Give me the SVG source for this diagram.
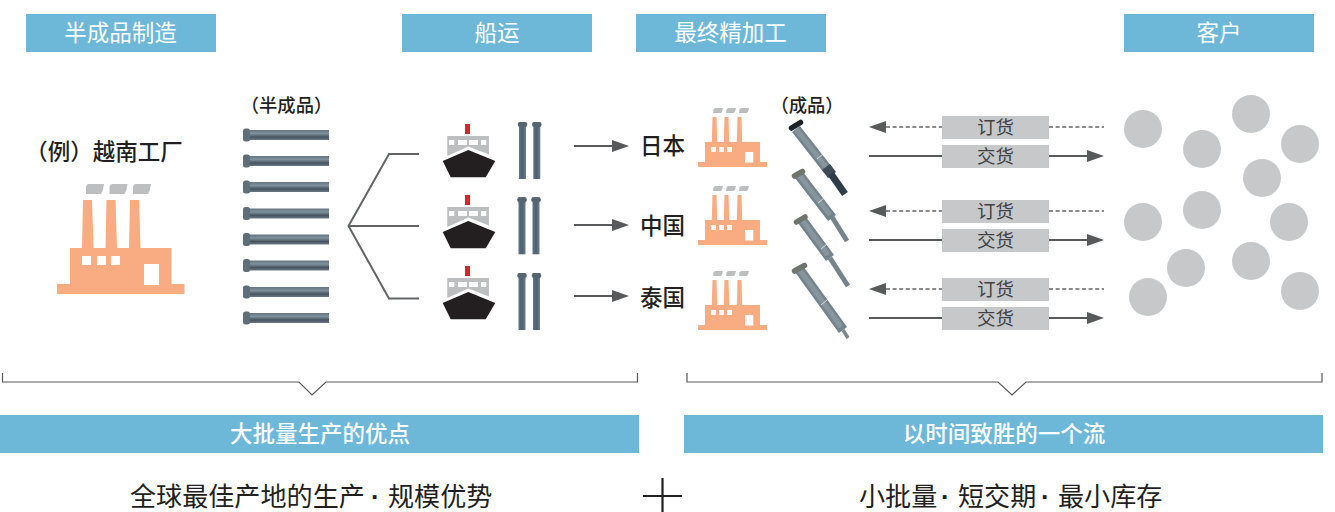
<svg xmlns="http://www.w3.org/2000/svg" width="1335" height="512" viewBox="0 0 1335 512">
<style>
text{font-family:"Noto Sans CJK SC","Noto Sans",sans-serif;fill:#231f20;text-anchor:middle}
.bar{fill:#6db8d9}
.w{fill:#fff}
.bt{fill:#fff;font-size:22.5px}
.bb{fill:#fff;font-size:22.5px;font-weight:500}
.c{font-size:22.5px;font-weight:500}
.s{font-size:18.3px;font-weight:500}
.big{font-size:26.1px;text-anchor:start}
.dot{font-family:"Liberation Sans",sans-serif;font-weight:700}
.o{font-size:18.5px;fill:#414042}
.f{fill:#f9ab82}
.sm{fill:#bcbec0}
.box{fill:#c7c8ca}
.cu{fill:#c7c8ca}
.ln{fill:none;stroke:#636466;stroke-width:2}
.th{fill:none;stroke:#58595b;stroke-width:1.2}
.da{fill:none;stroke:#636466;stroke-width:1.3;stroke-dasharray:4 2.6}
.so{fill:none;stroke:#58595b;stroke-width:2}
.ah{fill:#58595b}
.p1{stroke:#74838c;stroke-width:10;fill:none}
.p2{stroke:#87959d;stroke-width:5;fill:none}
.p3{stroke:#75838a;stroke-width:5;fill:none}
.hd{stroke:#6f756c;stroke-width:5.500;stroke-linecap:round;fill:none}
.tk{stroke:#e6eaec;stroke-width:.9;fill:none}
</style>
<defs>
<linearGradient id="hr" x1="0" y1="0" x2="0" y2="1"><stop offset="0" stop-color="#65757f"/><stop offset=".35" stop-color="#7e919d"/><stop offset=".7" stop-color="#46545f"/><stop offset="1" stop-color="#6a7a85"/></linearGradient>
<linearGradient id="vr" x1="0" y1="0" x2="1" y2="0"><stop offset="0" stop-color="#66747f"/><stop offset=".5" stop-color="#4a6074"/><stop offset="1" stop-color="#707e88"/></linearGradient>
<g id="hrod"><rect x="248" y="-5" width="81" height="10" fill="url(#hr)"/><rect x="243" y="-6.500" width="7" height="13" rx="2.500" fill="#5f6e78"/></g>
<g id="vrod"><rect x="-3.500" y="0" width="7" height="57" fill="url(#vr)"/><rect x="-4.700" y="0" width="9.400" height="5" rx="2" fill="#56666f"/></g>
<g id="ship">
<polygon class="sm" points="447.300,136 489,136 489,154.500 468.300,146.500 447.300,156"/>
<rect x="465" y="124" width="5" height="10" fill="#d9232e"/>
<g class="w"><rect x="449" y="140" width="5.300" height="5"/><rect x="458" y="140" width="9" height="5"/><rect x="469" y="140" width="9" height="5"/><rect x="481" y="140" width="5.300" height="5"/></g>
<polygon fill="#231f20" points="442.700,161 468.300,150 495.300,161 485.700,177.300 450.700,177.300"/>
</g>
<g id="sfac">
<polygon class="f" points="698,162 705,162 705,142 711.800,142 712.500,117 716.500,117 717.200,142 723.800,142 724.500,117 728.500,117 729.200,142 736.800,142 737.500,117 741.500,117 742.200,142 760,142 760,162 767,162 767,167 698,167"/>
<g class="w"><rect x="711" y="147" width="5" height="5"/><rect x="719" y="147" width="5" height="5"/><rect x="727" y="147" width="5" height="5"/><rect x="745" y="152" width="8.300" height="10.500"/></g>
<g class="sm"><path d="M713.500 109.500q.5-1.500 2-1.500h7.500q-.5 3.500-2 5h-8z"/><path d="M726.500 109.500q.5-1.500 2-1.500h7.500q-.5 3.500-2 5h-8z"/><path d="M739.500 109.500q.5-1.500 2-1.500h7.500q-.5 3.500-2 5h-8z"/></g>
</g>
<polygon id="ar" class="ah" points="0,-6 17,0 0,6"/>
</defs>

<g id="header-semi"><rect class="bar" x="26" y="14" width="190" height="38"/><text class="bt" x="120.500" y="41">半成品制造</text></g>
<g id="header-ship"><rect class="bar" x="402" y="14" width="190" height="38"/><text class="bt" x="497" y="41">船运</text></g>
<g id="header-final"><rect class="bar" x="636" y="14" width="190" height="38"/><text class="bt" x="730.500" y="41">最终精加工</text></g>
<g id="header-customer"><rect class="bar" x="1124" y="14" width="190" height="38"/><text class="bt" x="1219" y="41">客户</text></g>

<g id="factory-vietnam">
<text class="c" x="104" y="160">（例）越南工厂</text>
<path class="f" d="M57 284h13V248h12l1-48h9l1.500 48h12l1-48h9l1.500 48h12l1-48h9l1.500 48h31v36h13v10H57z"/>
<g class="w"><rect x="82" y="256" width="9" height="9"/><rect x="97" y="256" width="9" height="9"/><rect x="111" y="256" width="9" height="9"/><rect x="144" y="264" width="15" height="21"/></g>
<g class="sm"><path d="M86 187q.5-3 3-3h15q-.5 6-3 10H86z"/><path d="M109.500 187q.5-3 3-3h15q-.5 6-3 10h-15z"/><path d="M133 187q.5-3 3-3h15q-.5 6-3 10h-15z"/></g>
</g>

<g id="semi-products">
<text class="s" x="286.500" y="112">（半成品）</text>
<use href="#hrod" y="135"/><use href="#hrod" y="161"/><use href="#hrod" y="187"/><use href="#hrod" y="213.500"/><use href="#hrod" y="239.500"/><use href="#hrod" y="265.500"/><use href="#hrod" y="292"/><use href="#hrod" y="318"/>
</g>

<g id="ship-1"><use href="#ship"/><use href="#vrod" x="522.500" y="122"/><use href="#vrod" x="536.800" y="122"/></g>
<g id="ship-2"><use href="#ship" y="71"/><use href="#vrod" x="522" y="197.300"/><use href="#vrod" x="536" y="197.300"/></g>
<g id="ship-3"><use href="#ship" y="142"/><use href="#vrod" x="522" y="273"/><use href="#vrod" x="536.500" y="273"/></g>

<g id="country-japan"><text class="c" x="662.500" y="154">日本</text></g>
<g id="country-china"><text class="c" x="662.500" y="234">中国</text></g>
<g id="country-thailand"><text class="c" x="662.500" y="306">泰国</text></g>

<g id="factory-1"><use href="#sfac"/></g>
<g id="factory-2"><use href="#sfac" y="78"/></g>
<g id="factory-3"><use href="#sfac" y="163"/></g>

<g id="finished-products">
<text class="s" x="807" y="112">（成品）</text>
<g id="pin-1">
<path d="M796 129L828 170" class="p1"/><path d="M796 129L826 167" class="p2"/><path d="M826 167L832 175" stroke="#3e4c58" stroke-width="10" fill="none"/><path d="M831 174L845 194" stroke="#2f3c4a" stroke-width="7" fill="none"/><path d="M791.500 128L800.500 122.500" stroke="#1e2328" stroke-width="5.500" stroke-linecap="round" fill="none"/><path d="M817 159L823 154" class="tk"/>
</g>
<g id="pin-2">
<path d="M799 175L832 218" class="p1"/><path d="M799 175L830 215" class="p2"/><path d="M832 217L847 241" class="p3"/><path d="M794.500 176L802.500 171.500" class="hd"/><path d="M818 203L824 198" class="tk"/>
</g>
<g id="pin-3">
<path d="M802 220L830 258" class="p1"/><path d="M802 220L828 255" class="p2"/><path d="M830 258L848 286" class="p3"/><path d="M796.500 222L805 217" class="hd"/><path d="M821 249L827 244" class="tk"/>
</g>
<g id="pin-4">
<path d="M799 269L843 330" class="p1"/><path d="M799 269L841 327" class="p2"/><path d="M843 330L848 338" stroke="#7a888e" stroke-width="3.500" fill="none"/><path d="M794.500 271L804.500 265.500" class="hd"/><path d="M821 305L827 300" class="tk"/>
</g>
</g>

<g id="order-1"><rect class="box" x="942" y="116" width="107" height="23"/><text class="o" x="995.500" y="134">订货</text></g>
<g id="delivery-1"><rect class="box" x="942" y="145" width="107" height="23"/><text class="o" x="995.500" y="163">交货</text></g>
<g id="order-2"><rect class="box" x="942" y="200" width="107" height="23"/><text class="o" x="995.500" y="218">订货</text></g>
<g id="delivery-2"><rect class="box" x="942" y="229" width="107" height="23"/><text class="o" x="995.500" y="247">交货</text></g>
<g id="order-3"><rect class="box" x="942" y="278" width="107" height="23"/><text class="o" x="995.500" y="296">订货</text></g>
<g id="delivery-3"><rect class="box" x="942" y="307" width="107" height="23"/><text class="o" x="995.500" y="325">交货</text></g>

<g id="customers" class="cu">
<circle cx="1143" cy="129" r="19"/><circle cx="1202" cy="149" r="19"/><circle cx="1251" cy="114" r="19"/><circle cx="1300" cy="144" r="19"/><circle cx="1262" cy="178" r="19"/><circle cx="1143" cy="222" r="19"/><circle cx="1202" cy="210" r="19"/><circle cx="1289" cy="222" r="19"/><circle cx="1186" cy="268" r="19"/><circle cx="1251" cy="261" r="19"/><circle cx="1148" cy="297" r="19"/><circle cx="1300" cy="291" r="19"/>
</g>

<g id="connectors">
<path class="ln" d="M419 154H389L348.500 226L389 298.500H419M348.500 226H419"/>
<path class="so" d="M574 146H612M574 225H612M574 296H612"/>
<use href="#ar" x="612" y="146"/><use href="#ar" x="612" y="225"/><use href="#ar" x="612" y="296"/>
<path class="da" d="M886 127H942M1049 127H1104M886 211H942M1049 211H1104M886 289H942M1049 289H1104"/>
<path class="so" d="M869 156H942M1049 156H1087M869 240H942M1049 240H1087M869 318H942M1049 318H1087"/>
<use href="#ar" transform="translate(886 127) scale(-1 1)"/><use href="#ar" transform="translate(886 211) scale(-1 1)"/><use href="#ar" transform="translate(886 289) scale(-1 1)"/>
<use href="#ar" x="1087" y="156"/><use href="#ar" x="1087" y="240"/><use href="#ar" x="1087" y="318"/>
<path class="th" d="M2.500 373V382H299L312 395L326 382H637.500V373"/>
<path class="th" d="M687 373V382H998L1012 395L1026 382H1322V373"/>
</g>

<g id="summary-left"><rect class="bar" x="0" y="415" width="639" height="38"/><text class="bb" x="320" y="442">大批量生产的优点</text><text class="big" y="505.500"><tspan x="130">全球最佳产地的生产</tspan><tspan class="dot" x="371">·</tspan><tspan x="388">规模优势</tspan></text></g>
<g id="plus"><path d="M643 496H682M662.500 478V512" fill="none" stroke="#231f20" stroke-width="2.200"/></g>
<g id="summary-right"><rect class="bar" x="684" y="415" width="639" height="38"/><text class="bb" x="1004" y="442">以时间致胜的一个流</text><text class="big" y="505.500"><tspan x="859">小批量</tspan><tspan class="dot" x="941">·</tspan><tspan x="958">短交期</tspan><tspan class="dot" x="1041">·</tspan><tspan x="1058">最小库存</tspan></text></g>
</svg>
